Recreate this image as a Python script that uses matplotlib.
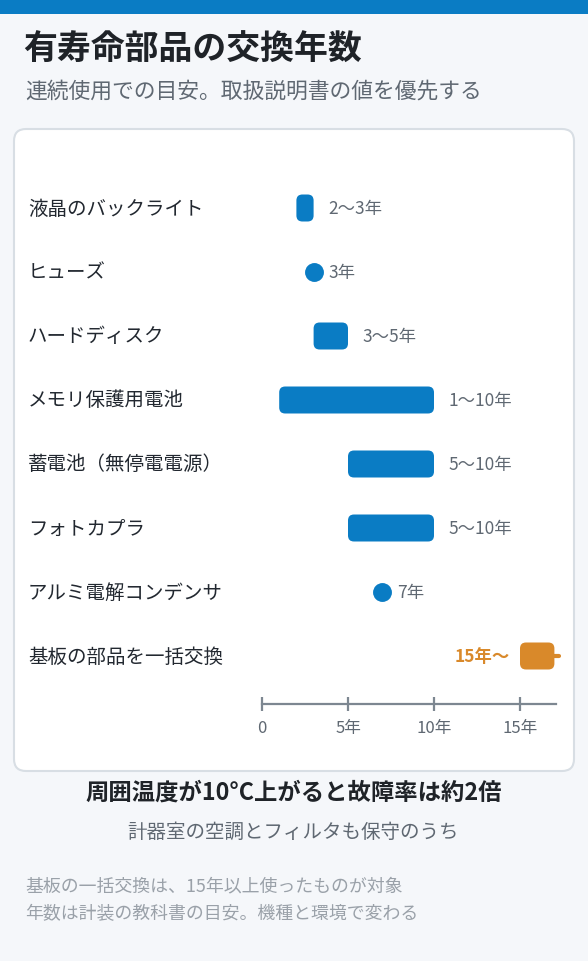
import matplotlib.pyplot as plt
from matplotlib.patches import FancyBboxPatch, Rectangle

plt.rcParams['font.family'] = ['Noto Sans CJK JP', 'DejaVu Sans']

# data
parts = ['液晶のバックライト', 'ヒューズ', 'ハードディスク', 'メモリ保護用電池',
         '蓄電池（無停電電源）', 'フォトカプラ', 'アルミ電解コンデンサ', '基板の部品を一括交換']
low = [2, 3, 3, 1, 5, 5, 7, 15]
high = [3, 3, 5, 10, 10, 10, 7, 17]
value_labels = ['2〜3年', '3年', '3〜5年', '1〜10年', '5〜10年', '5〜10年', '7年', '15年〜']
open_ended = [False, False, False, False, False, False, False, True]
ticks = [0, 5, 10, 15]
tick_labels = ['0', '5年', '10年', '15年']

W, H = 588, 962
BLUE = '#0a7cc4'
ORANGE = '#d9892a'

fig = plt.figure(figsize=(W / 100, H / 100), dpi=100)
fig.patch.set_facecolor('#f5f7fa')

# background layer in pixel units
bg = fig.add_axes([0, 0, 1, 1])
bg.set_xlim(0, W)
bg.set_ylim(H, 0)
bg.axis('off')
bg.add_patch(Rectangle((0, 0), W, 15, color=BLUE, lw=0))
bg.add_patch(FancyBboxPatch((14, 130), 560, 642, boxstyle='round,pad=0,rounding_size=12',
                            fc='white', ec='#d8dee4', lw=1.5))

bg.text(23, 49, '有寿命部品の交換年数', fontsize=24.4, fontweight='bold', color='#1f2328', va='center')
bg.text(25, 92, '連続使用での目安。取扱説明書の値を優先する', fontsize=15.7, color='#5f6872', va='center')
bg.text(W / 2, 793, '周囲温度が10°C上がると故障率は約2倍', fontsize=16.8, fontweight='bold',
        color='#1f2328', ha='center', va='center')
bg.text(W / 2 - 1, 832, '計器室の空調とフィルタも保守のうち', fontsize=14, color='#5f6872',
        ha='center', va='center')
bg.text(25, 886, '基板の一括交換は、15年以上使ったものが対象', fontsize=12.9, color='#9aa1a9', va='center')
bg.text(25, 914, '年数は計装の教科書の目安。機種と環境で変わる', fontsize=12.9, color='#9aa1a9', va='center')

# chart axes
px_per_year = 17.2
xmax = 17.1
row0, row_step = 209, 64
ax_top, ax_bot = 170, 705
ax = fig.add_axes([262 / W, 1 - ax_bot / H, xmax * px_per_year / W, (ax_bot - ax_top) / H])
ax.set_xlim(0, xmax)
ax.set_ylim((ax_bot - row0) / row_step, (ax_top - row0) / row_step)
ax.patch.set_alpha(0)
for s in ['top', 'right', 'left']:
    ax.spines[s].set_visible(False)
ax.spines['bottom'].set_color('#7d8791')
ax.spines['bottom'].set_linewidth(1.6)
ax.set_yticks([])
ax.set_xticks(ticks)
ax.set_xticklabels(tick_labels)
ax.tick_params(axis='x', direction='inout', length=10, width=1.6, color='#7d8791',
               labelsize=12, labelcolor='#5f6872', pad=6)

bar_h = 27 / row_step
radius = 6 / px_per_year
aspect = px_per_year / row_step

for i, (name, lo, hi, lab, op) in enumerate(zip(parts, low, high, value_labels, open_ended)):
    color = ORANGE if op else BLUE
    if lo == hi:
        ax.scatter([lo], [i], s=185, color=color, zorder=3, lw=0)
    else:
        ax.add_patch(FancyBboxPatch((lo, i - bar_h / 2), hi - lo, bar_h,
                                    boxstyle=f'round,pad=0,rounding_size={radius}',
                                    mutation_aspect=aspect, fc=color, ec='none', zorder=3))
    if op:
        ax.plot([hi, hi + 0.25], [i, i], color=color, lw=3, solid_capstyle='round', clip_on=False)
        ax.annotate(lab, (lo, i), xytext=(-7, 0), textcoords='offset points', ha='right', va='center',
                    fontsize=12.5, fontweight='bold', color=ORANGE)
    else:
        ax.annotate(lab, (hi, i), xytext=(10.5, 0), textcoords='offset points', ha='left', va='center',
                    fontsize=12.5, color='#5f6872')
    bg.text(28, row0 + i * row_step, name, fontsize=14, color='#222830', va='center')

fig.savefig('out.png', dpi=100, facecolor=fig.get_facecolor())
